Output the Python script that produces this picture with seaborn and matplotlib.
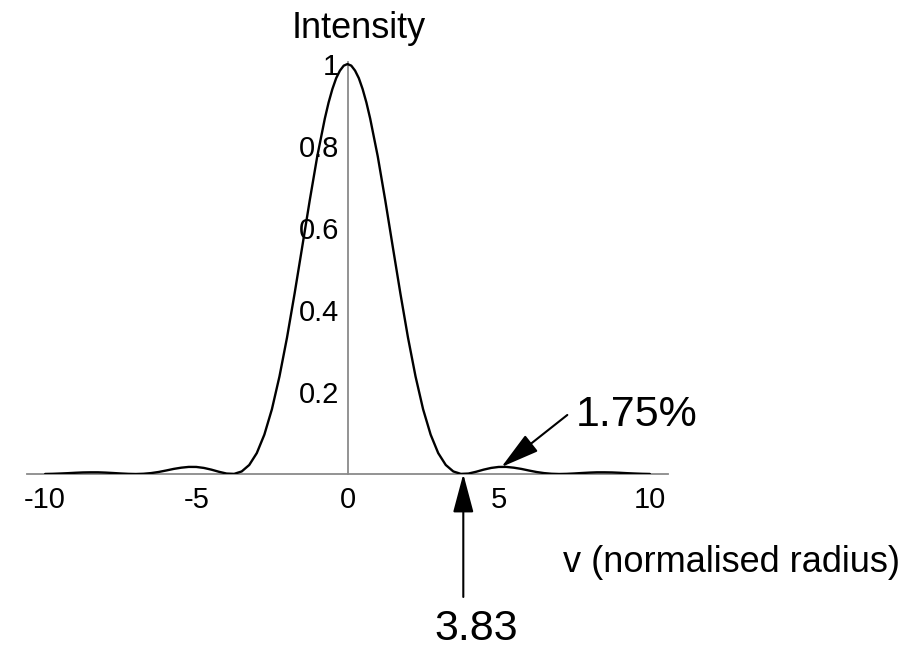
import matplotlib
matplotlib.use("Agg")
import matplotlib.pyplot as plt
import seaborn as sns
import pandas as pd
from matplotlib.ticker import MultipleLocator

# normalised radius sample points
v = [-10.0, -9.75, -9.5, -9.25, -9.0, -8.75, -8.5, -8.25, -8.0, -7.75,
     -7.5, -7.25, -7.0, -6.75, -6.5, -6.25, -6.0, -5.75, -5.5, -5.25,
     -5.0, -4.75, -4.5, -4.25, -4.0, -3.75, -3.5, -3.25, -3.0, -2.75,
     -2.5, -2.25, -2.0, -1.75, -1.5, -1.25, -1.0, -0.75, -0.625, -0.5,
     -0.375, -0.25, -0.125,
     0.0,
     0.125, 0.25, 0.375, 0.5, 0.625, 0.75, 1.0, 1.25, 1.5, 1.75, 2.0, 2.25,
     2.5, 2.75, 3.0, 3.25, 3.5, 3.75, 4.0, 4.25, 4.5, 4.75,
     5.0, 5.25, 5.5, 5.75, 6.0, 6.25, 6.5, 6.75, 7.0, 7.25,
     7.5, 7.75, 8.0, 8.25, 8.5, 8.75, 9.0, 9.25, 9.5, 9.75, 10.0]

# intensity
intensity = [0.0001, 0.0005, 0.0012, 0.0020, 0.0030, 0.0038, 0.0041, 0.0041, 0.0034, 0.0024,
             0.0013, 0.0004, 0.0000, 0.0006, 0.0022, 0.0049, 0.0085, 0.0124, 0.0154, 0.0173,
             0.0172, 0.0148, 0.0106, 0.0054, 0.0011, 0.0003, 0.0062, 0.0220, 0.0510, 0.0960,
             0.1580, 0.2380, 0.3330, 0.4400, 0.5530, 0.6670, 0.7750, 0.8670, 0.9062, 0.9390,
             0.9655, 0.9840, 0.9961,
             1.0000,
             0.9961, 0.9840, 0.9655, 0.9390, 0.9062, 0.8670, 0.7750, 0.6670, 0.5530, 0.4400,
             0.3330, 0.2380,
             0.1580, 0.0960, 0.0510, 0.0220, 0.0062, 0.0003, 0.0011, 0.0054, 0.0106, 0.0148,
             0.0172, 0.0173, 0.0154, 0.0124, 0.0085, 0.0049, 0.0022, 0.0006, 0.0000, 0.0004,
             0.0013, 0.0024, 0.0034, 0.0041, 0.0041, 0.0038, 0.0030, 0.0020, 0.0012, 0.0005,
             0.0001]

x_ticks = [-10, -5, 0, 5, 10]
x_tick_labels = ["-10", "-5", "0", "5", "10"]
y_ticks = [0.2, 0.4, 0.6, 0.8, 1.0]
y_tick_labels = ["0.2", "0.4", "0.6", "0.8", "1"]

zero_radius = 3.83
first_ring = (5.09, 0.017)

sns.set_style("white")
plt.rcParams["font.family"] = ["Liberation Sans", "DejaVu Sans"]
plt.rcParams["text.color"] = "black"

df = pd.DataFrame({"v": v, "I": intensity})

fig = plt.figure(figsize=(9.14, 6.49), dpi=100)
ax = fig.add_axes([27 / 914, (649 - 474) / 649, 641 / 914, 412 / 649])

sns.lineplot(data=df, x="v", y="I", ax=ax, color="black", linewidth=1.7,
             errorbar=None, zorder=4)

ax.set_xlim(-10.6, 10.6)
ax.set_ylim(0, 1.005)

for s in ["top", "right"]:
    ax.spines[s].set_visible(False)
ax.spines["left"].set_position(("data", 0))
for s in ["left", "bottom"]:
    ax.spines[s].set_color("#8a8a8a")
    ax.spines[s].set_linewidth(1.3)

ax.set_xticks(x_ticks, x_tick_labels)
ax.set_yticks(y_ticks, y_tick_labels)
ax.xaxis.set_minor_locator(MultipleLocator(1))
ax.yaxis.set_minor_locator(MultipleLocator(0.05))
ax.tick_params(axis="both", which="major", direction="in", length=6, width=1.1,
               color="#8a8a8a", labelsize=21, labelcolor="black")
ax.tick_params(axis="both", which="minor", direction="in", length=3, width=1,
               color="#8a8a8a")
ax.tick_params(axis="x", pad=9)
ax.tick_params(axis="y", pad=6)
ax.set_xlabel("")
ax.set_ylabel("")
ax.grid(False)

ax.text(0.36, 1.063, "Intensity", fontsize=26, ha="center", va="baseline",
        color="black", clip_on=False)
ax.text(7.14, -0.239, "v (normalised radius)", fontsize=26, ha="left",
        va="baseline", color="black", clip_on=False)

arrow_style = "-|>,head_length=1.2,head_width=0.32"
ax.annotate("", xy=(zero_radius, 0.0), xytext=(zero_radius, -0.30),
            arrowprops=dict(arrowstyle=arrow_style, color="black", lw=1.5,
                            mutation_scale=20, shrinkA=0, shrinkB=0),
            annotation_clip=False)
ax.text(4.26, -0.405, "3.83", fontsize=31, ha="center", va="baseline",
        color="black", clip_on=False)

ax.annotate("", xy=first_ring, xytext=(7.27, 0.144),
            arrowprops=dict(arrowstyle=arrow_style, color="black", lw=1.5,
                            mutation_scale=20, shrinkA=0, shrinkB=0),
            annotation_clip=False)
ax.text(7.54, 0.117, "1.75%", fontsize=31, ha="left", va="baseline",
        color="black", clip_on=False)

fig.savefig("out.png", dpi=100)
